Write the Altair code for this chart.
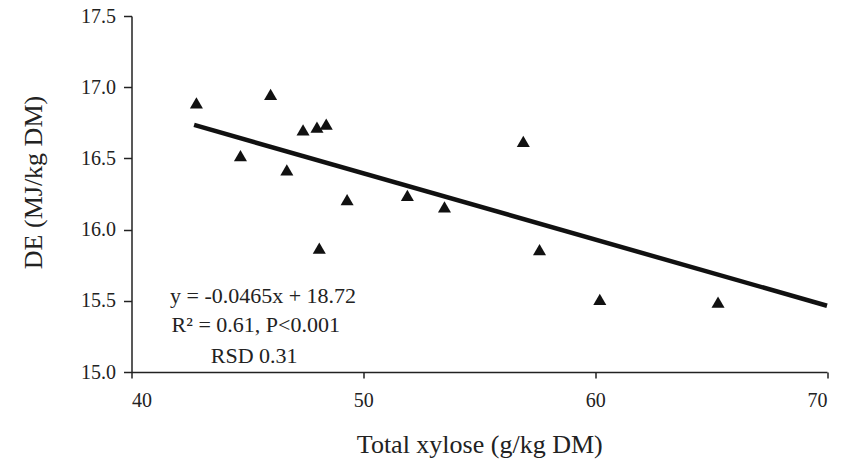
import altair as alt
import pandas as pd

xylose = [42.8, 44.7, 46.0, 46.7, 47.4, 48.0, 48.4, 48.1, 49.3, 51.9, 53.5, 56.9, 57.6, 60.2, 65.3]
de = [16.89, 16.52, 16.95, 16.42, 16.70, 16.72, 16.74, 15.87, 16.21, 16.24, 16.16, 16.62, 15.86, 15.51, 15.49]

fit_x = [42.7, 70.0]
fit_y = [16.735, 15.465]

ann_text = ["y = -0.0465x + 18.72", "R² = 0.61, P<0.001", "RSD 0.31"]
ann_x = [41.66, 41.73, 43.42]
ann_y = [15.485, 15.281, 15.063]

pts = pd.DataFrame({"x": xylose, "y": de})
fit = pd.DataFrame({"x": fit_x, "y": fit_y})
ann = pd.DataFrame({"x": ann_x, "y": ann_y, "t": ann_text})

FONT = "Liberation Serif"
INK = "#222222"

xscale = alt.Scale(domain=[40, 70], nice=False, zero=False)
yscale = alt.Scale(domain=[15.0, 17.5], nice=False, zero=False)

xaxis = alt.Axis(
    values=[40, 50, 60, 70], format="d", grid=False,
    title="Total xylose (g/kg DM)", titleFont=FONT, titleFontSize=26,
    titleFontWeight="normal", titleColor=INK, titleBaseline="alphabetic", titleY=80,
    labelFont=FONT, labelFontSize=20, labelColor=INK, labelPadding=12,
    tickSize=6, tickColor=INK, domainColor=INK, domainWidth=1.5, tickWidth=1.5,
)
yaxis = alt.Axis(
    values=[15.0, 15.5, 16.0, 16.5, 17.0, 17.5], format=".1f", grid=False,
    title="DE (MJ/kg DM)", titleFont=FONT, titleFontSize=26,
    titleFontWeight="normal", titleColor=INK, titleX=-85, titleY=166,
    labelFont=FONT, labelFontSize=20, labelColor=INK, labelPadding=8,
    tickSize=8, tickColor=INK, domainColor=INK, domainWidth=1.5, tickWidth=1.5,
)

points = alt.Chart(pts).mark_point(
    shape="triangle-up", filled=True, size=170, color="#111111", opacity=1
).encode(
    x=alt.X("x:Q", scale=xscale, axis=xaxis),
    y=alt.Y("y:Q", scale=yscale, axis=yaxis),
)

line = alt.Chart(fit).mark_line(color="#111111", strokeWidth=4.5).encode(
    x=alt.X("x:Q", scale=xscale),
    y=alt.Y("y:Q", scale=yscale),
)

text = alt.Chart(ann).mark_text(
    align="left", baseline="alphabetic", font=FONT, fontSize=22, color=INK
).encode(
    x=alt.X("x:Q", scale=xscale),
    y=alt.Y("y:Q", scale=yscale),
    text="t:N",
)

chart = alt.layer(line, points, text).properties(
    width=695.5, height=356,
    autosize=alt.AutoSizeParams(type="none"),
    padding={"left": 131.5, "top": 16, "right": 15, "bottom": 88},
    background="white",
).configure_view(stroke=None)

chart.save("out.html", embed_options={"renderer": "svg", "actions": False})
